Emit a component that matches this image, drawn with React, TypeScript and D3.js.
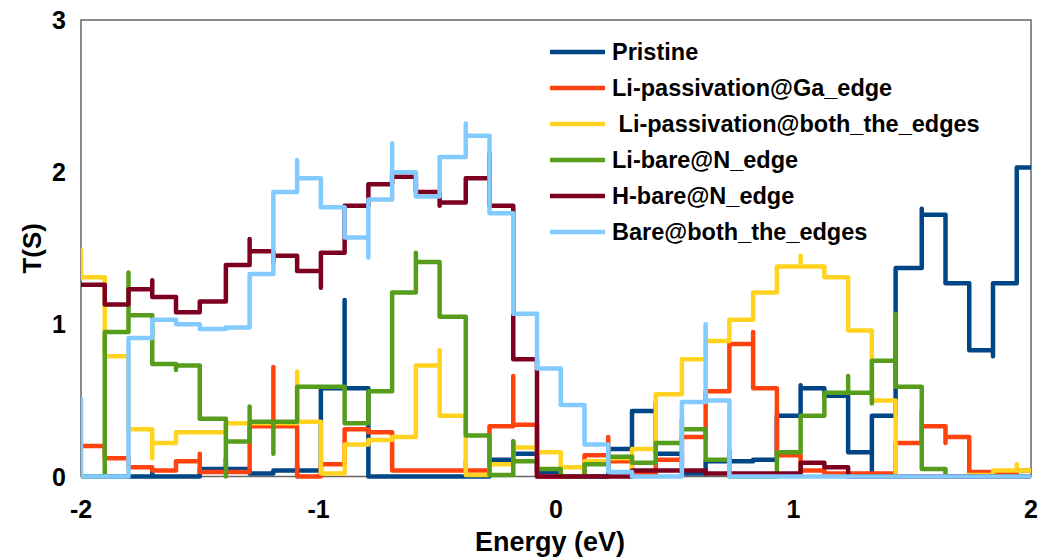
import React, { useEffect, useRef } from 'react';
import * as d3 from 'd3';

// bin edges on the energy axis (eV)
const energyEdges = [
  -2.0, -1.9, -1.8, -1.7, -1.6, -1.5, -1.39, -1.29, -1.19, -1.09,
  -0.99, -0.89, -0.79, -0.69, -0.59, -0.49, -0.38, -0.28, -0.18, -0.08,
  0.02, 0.12, 0.22, 0.32, 0.42, 0.53, 0.63, 0.73, 0.83, 0.93,
  1.03, 1.13, 1.23, 1.33, 1.43, 1.54, 1.64, 1.74, 1.84, 1.94, 2.04,
];

const seriesNames = [
  'Pristine',
  'Li-passivation@Ga_edge',
  ' Li-passivation@both_the_edges',
  'Li-bare@N_edge',
  'H-bare@N_edge',
  'Bare@both_the_edges',
];
const seriesColors = ['#004586', '#ff420e', '#ffd320', '#579d1c', '#7e0021', '#83caff'];

// transmission per bin
const pristine = [
  0, 0, 0, 0, 0, 0.05, 0.05, 0.02, 0.04, 0.04,
  0.58, 0.58, 0, 0, 0, 0, 0, 0.11, 0.15, 0.03,
  0, 0, 0.18, 0.43, 0.15, 0.02, 0.1, 0.1, 0.11, 0.4,
  0.58, 0.53, 0.16, 0.4, 1.37, 1.72, 1.27, 0.83, 1.27, 2.03,
];
const liGaEdge = [
  0.2, 0.12, 0.06, 0.04, 0.1, 0.03, 0.03, 0.33, 0.33, 0,
  0.08, 0.31, 0.29, 0.04, 0.04, 0.04, 0.04, 0.33, 0.34, 0,
  0, 0.14, 0.1, 0.02, 0.11, 0.26, 0.56, 0.87, 0.58, 0.14,
  0.04, 0.02, 0.02, 0.02, 0.22, 0.33, 0.26, 0.03, 0.02, 0.04,
];
const liBothEdges = [
  1.31, 0.79, 0.31, 0.22, 0.29, 0.29, 0.35, 0.35, 0.35, 0.36,
  0.02, 0.21, 0.24, 0.26, 0.73, 0.4, 0.01, 0.08, 0.19, 0.16,
  0.06, 0.1, 0.12, 0.18, 0.54, 0.77, 0.89, 1.03, 1.21, 1.38,
  1.38, 1.31, 0.96, 0.5, 0, 0, 0, 0.01, 0.04, 0.04,
];
const liBareN = [
  0, 0.95, 1.06, 0.74, 0.73, 0.38, 0.23, 0.36, 0.36, 0.59,
  0.59, 0.35, 0.56, 1.21, 1.41, 1.05, 0.27, 0.01, 0.1, 0.05,
  0, 0.08, 0.13, 0.09, 0.22, 0.31, 0.11, 0, 0, 0.16,
  0.4, 0.55, 0.55, 0.76, 0.59, 0.05, 0, 0, 0, 0,
];
const hBareN = [
  1.26, 1.13, 1.23, 1.18, 1.08, 1.15, 1.39, 1.48, 1.45, 1.35,
  1.47, 1.78, 1.92, 1.97, 1.87, 1.8, 1.96, 1.78, 0.77, 0,
  0, 0, 0, 0.04, 0.04, 0.04, 0.02, 0.02, 0.02, 0.02,
  0.09, 0.06, 0, 0, 0, 0, 0, 0, 0, 0,
];
const bareBoth = [
  0, 0, 0.91, 1.03, 1.0, 0.97, 0.98, 1.33, 1.87, 1.96,
  1.77, 1.57, 1.82, 2.0, 1.84, 2.1, 2.24, 1.73, 1.07, 0.71,
  0.47, 0.21, 0.03, 0, 0, 0.49, 0.5, 0, 0, 0,
  0, 0, 0, 0, 0, 0, 0, 0, 0, 0,
];

// short spikes drawn at a bin edge: [edge index, value]
const pristineSpikes = [[3, 0.03], [6, 0.12], [9, 0.07], [11, 1.16], [18, 0.23], [24, 0.49], [27, 0.17], [30, 0.6], [33, 0], [35, 1.76], [38, 0.79]];
const liGaSpikes = [[5, 0.15], [8, 0.72], [16, 0.1], [18, 0.66], [22, 0.26], [28, 0.95], [35, 0.43], [36, 0.22]];
const liBothSpikes = [[0, 1.49], [3, 0.12], [9, 0.69], [15, 0.83], [23, 0], [30, 1.45], [39, 0.08]];
const liBareSpikes = [[2, 1.34], [4, 0.7], [6, 0], [7, 0.46], [8, 0.15], [14, 1.47], [18, 0.23], [25, 0.38], [32, 0.66], [33, 0.48], [34, 1.07]];
const hBareSpikes = [[3, 1.29], [7, 1.56], [8, 1.41], [10, 1.24], [13, 1.99], [15, 1.78], [17, 2.12]];
const bareBothSpikes = [[0, 0.51], [9, 2.08], [12, 1.44], [13, 2.19], [16, 2.32], [26, 1.0]];

const seriesValues = [pristine, liGaEdge, liBothEdges, liBareN, hBareN, bareBoth];
const seriesSpikes = [pristineSpikes, liGaSpikes, liBothSpikes, liBareSpikes, hBareSpikes, bareBothSpikes];

const xTicks = [-2, -1, 0, 1, 2];
const yTicks = [0, 1, 2, 3];

const FONT = "'Liberation Sans', Arial, sans-serif";

function stepPoints(vals: number[], spikes: number[][]) {
  const sp = new Map(spikes.map((s) => [s[0], s[1]]));
  const pts: [number, number][] = [];
  vals.forEach((v, i) => {
    if (sp.has(i)) pts.push([energyEdges[i], sp.get(i) as number]);
    pts.push([energyEdges[i], v]);
    pts.push([energyEdges[i + 1], v]);
  });
  return pts;
}

export default function App() {
  const chart = useRef<SVGSVGElement>(null);

  useEffect(() => {
    const width = 1039;
    const height = 557;
    const margin = { top: 20, left: 81, right: 8, bottom: 80.5 };
    const iwidth = width - margin.left - margin.right;
    const iheight = height - margin.top - margin.bottom;

    const svg = d3.select(chart.current);
    svg.selectAll('*').remove();
    svg.attr('width', width).attr('height', height);

    const x = d3.scaleLinear().domain([-2, 2]).range([margin.left, margin.left + iwidth]);
    const y = d3.scaleLinear().domain([0, 3]).range([margin.top + iheight, margin.top]);

    svg.append('rect')
      .attr('width', width).attr('height', height).attr('fill', '#fff');

    svg.append('defs').append('clipPath').attr('id', 'plotclip')
      .append('rect')
      .attr('x', margin.left).attr('y', 0)
      .attr('width', iwidth).attr('height', height);

    // frame
    svg.append('rect')
      .attr('x', margin.left).attr('y', margin.top)
      .attr('width', iwidth).attr('height', iheight)
      .attr('fill', 'none').attr('stroke', '#666').attr('stroke-width', 1.5);

    const line = d3.line<[number, number]>()
      .x((d) => x(d[0]))
      .y((d) => y(d[1]));

    const g = svg.append('g').attr('clip-path', 'url(#plotclip)');
    seriesValues.forEach((vals, i) => {
      g.append('path')
        .attr('d', line(stepPoints(vals, seriesSpikes[i])))
        .attr('fill', 'none')
        .attr('stroke', seriesColors[i])
        .attr('stroke-width', 4.5)
        .attr('stroke-linejoin', 'round')
        .attr('stroke-linecap', 'round');
    });

    // axis labels
    svg.append('g').selectAll('text').data(xTicks).enter().append('text')
      .attr('x', (d) => x(d)).attr('y', 518)
      .attr('text-anchor', 'middle')
      .style('font', `bold 25px ${FONT}`)
      .text((d) => String(d));

    svg.append('g').selectAll('text').data(yTicks).enter().append('text')
      .attr('x', 66).attr('y', (d) => y(d) + 9)
      .attr('text-anchor', 'end')
      .style('font', `bold 25px ${FONT}`)
      .text((d) => String(d));

    svg.append('text')
      .attr('x', x(0) - 6).attr('y', 551)
      .attr('text-anchor', 'middle')
      .style('font', `bold 27px ${FONT}`)
      .text('Energy (eV)');

    svg.append('text')
      .attr('transform', `translate(41,${y(1.5)}) rotate(-90)`)
      .attr('text-anchor', 'middle')
      .style('font', `bold 26px ${FONT}`)
      .text('T(S)');

    // legend
    const legend = svg.append('g').attr('transform', 'translate(550,52)');
    seriesNames.forEach((name, i) => {
      const row = legend.append('g').attr('transform', `translate(0,${i * 36})`);
      row.append('line')
        .attr('x1', 0).attr('x2', 55).attr('y1', 0).attr('y2', 0)
        .attr('stroke', seriesColors[i]).attr('stroke-width', 4.5);
      row.append('text')
        .attr('x', 62).attr('y', 8)
        .style('font', `bold 23.5px ${FONT}`)
        .style('white-space', 'pre')
        .text(name);
    });
  }, []);

  return (
    <svg ref={chart} style={{ position: 'absolute', left: 0, top: 0, display: 'block' }}></svg>
  );
}
